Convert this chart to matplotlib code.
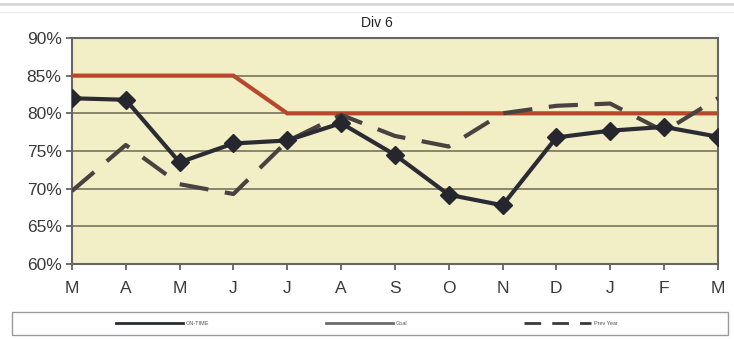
import matplotlib.pyplot as plt
from matplotlib.lines import Line2D
from matplotlib.patches import Rectangle

months = ['M', 'A', 'M', 'J', 'J', 'A', 'S', 'O', 'N', 'D', 'J', 'F', 'M']
on_time = [82.0, 81.8, 73.5, 76.0, 76.4, 78.7, 74.5, 69.2, 67.8, 76.8, 77.7, 78.2, 76.9]
goal = [85, 85, 85, 85, 80, 80, 80, 80, 80, 80, 80, 80, 80]
prev_year = [69.7, 75.8, 70.6, 69.3, 76.3, 79.8, 77.0, 75.6, 80.0, 81.0, 81.3, 77.6, 82.0]
y_ticks = [60, 65, 70, 75, 80, 85, 90]

plt.rcParams['font.family'] = ['Liberation Sans', 'DejaVu Sans']

fig = plt.figure(figsize=(7.34, 3.39), dpi=100)
fig.patch.set_facecolor('white')
ax = fig.add_axes([0.098, 0.221, 0.880, 0.667])
ax.set_facecolor('#f2eec6')

x = list(range(len(months)))
ax.plot(x, goal, color='#b8482c', lw=3, zorder=3, solid_joinstyle='miter')
ax.plot(x, prev_year, color='#4a4141', lw=3, dashes=(7, 4), zorder=4)
ax.plot(x, on_time, color='#2b2b33', lw=3, marker='D', markersize=9,
        markerfacecolor='#26262e', markeredgecolor='#26262e', zorder=5)

ax.set_xlim(0, len(months) - 1)
ax.set_ylim(60, 90)
ax.set_yticks(y_ticks)
ax.set_yticklabels([f'{v}%' for v in y_ticks])
ax.set_xticks(x)
ax.set_xticklabels(months)
ax.tick_params(axis='both', labelsize=12.5, colors='#555555', length=4, width=1.2,
               labelcolor='#3a3a3a')
ax.tick_params(axis='x', pad=8)
ax.yaxis.grid(True, color='#6b6a55', lw=1.1)
ax.set_axisbelow(True)
for side in ['left', 'bottom', 'top', 'right']:
    ax.spines[side].set_color('#666666')
    ax.spines[side].set_linewidth(1.5)

fig.text(0.513, 0.933, 'Div 6', ha='center', va='center', fontsize=10, color='#222222')

# thin rules across the top of the chart
fig.add_artist(Line2D([0.0, 1.0], [0.988, 0.988], color='#d8d8d8', lw=2))
fig.add_artist(Line2D([0.0, 1.0], [0.965, 0.965], color='#eeeeee', lw=1))

# legend frame along the bottom
fig.add_artist(Rectangle((0.016, 0.012), 0.976, 0.068, transform=fig.transFigure,
                         facecolor='white', edgecolor='#999999', lw=1))

handles = [
    Line2D([], [], color='#2b2b33', lw=2),
    Line2D([], [], color='#6a6a6a', lw=2),
    Line2D([], [], color='#3a3a3a', lw=2, dashes=(6, 4)),
]
leg = fig.legend(handles, ['ON-TIME', 'Goal', 'Prev Year'], loc='center',
                 bbox_to_anchor=(0.5, 0.046), ncol=3, fontsize=4, handlelength=12,
                 columnspacing=21, handletextpad=0.6, frameon=False,
                 labelcolor='#555555')

fig.savefig('out.png', dpi=100)
